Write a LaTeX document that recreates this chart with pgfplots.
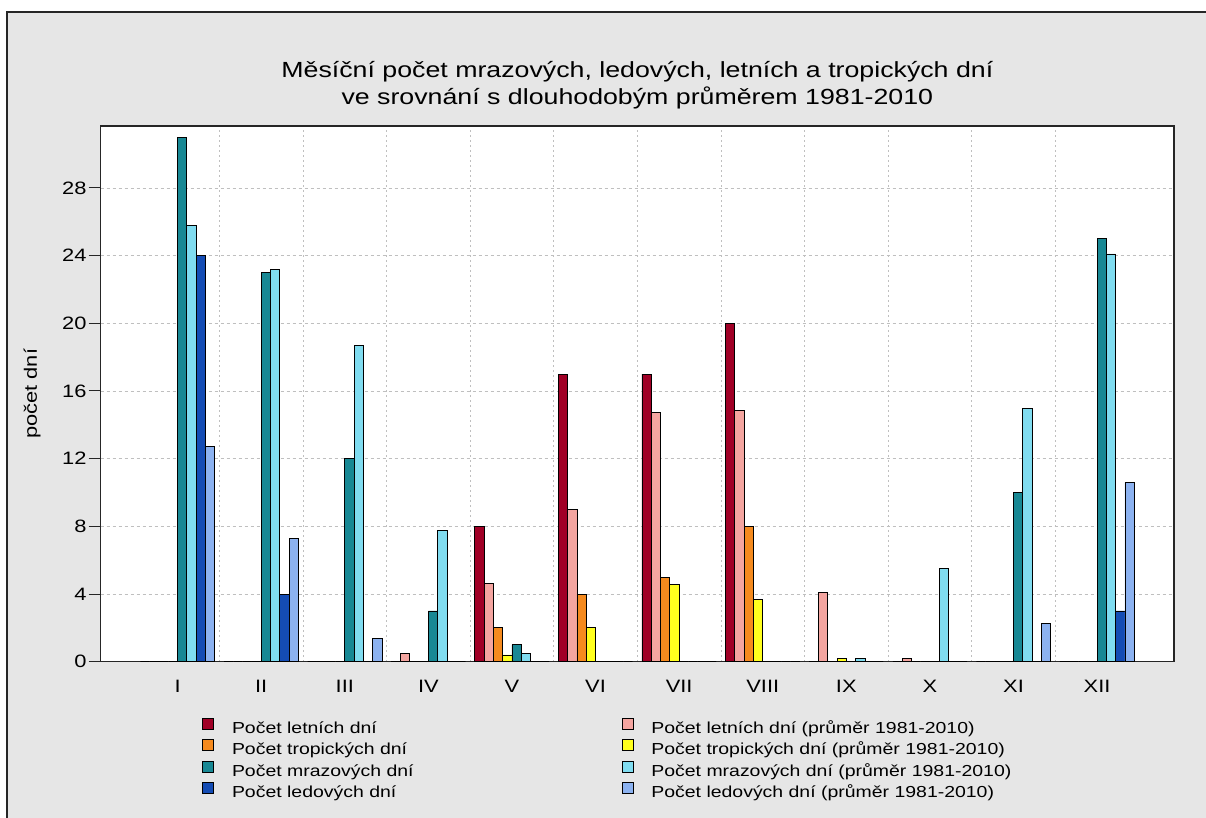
\documentclass[border=0pt]{standalone}
\usepackage{fontspec}
\setmainfont{Liberation Sans}[FakeStretch=1.22]
\usepackage{pgfplots}
\usepackage{pgfplotstable}
\pgfplotsset{compat=1.18}
\definecolor{cL}{HTML}{A00026}
\definecolor{cLa}{HTML}{F4A5A0}
\definecolor{cT}{HTML}{F58A1E}
\definecolor{cTa}{HTML}{FFFF1E}
\definecolor{cM}{HTML}{188894}
\definecolor{cMa}{HTML}{80DCF0}
\definecolor{cD}{HTML}{144CB4}
\definecolor{cDa}{HTML}{8CB2F0}
\definecolor{bg}{HTML}{E6E6E6}
\pgfplotstableread{
x  L   La   T  Ta  M   Ma   D   Da
0  0   0    0  0   31  25.8 24  12.7
1  0   0    0  0   23  23.2 4   7.3
2  0   0    0  0   12  18.7 0   1.4
3  0   0.5  0  0   3   7.75 0   0
4  8   4.6  2  0.4 1   0.5  0   0
5  17  9.0  4  2   0   0    0   0
6  17  14.75 5 4.55 0  0    0   0
7  20  14.85 8 3.7 0   0    0   0
8  0   4.1  0  0.2 0   0.2  0   0
9  0   0.2  0  0   0   5.5  0   0
10 0   0    0  0   10  14.95 0  2.25
11 0   0    0  0   25  24.1 3   10.6
}\data
\begin{document}
\begin{tikzpicture}
\useasboundingbox (0,0) rectangle (1206bp,818bp);
\fill[white] (0,0) rectangle (1206bp,818bp);
\fill[bg] (7.3bp,0) rectangle (1206bp,805.7bp);
\draw[black!85, line width=2bp] (7.3bp,0) -- (7.3bp,805.7bp) -- (1206bp,805.7bp);
\begin{axis}[
  at={(100.7bp,156.3bp)}, anchor=south west,
  scale only axis, width=1073.3bp, height=535.7bp,
  xmin=-0.92, xmax=11.92, ymin=0, ymax=31.66,
  axis background/.style={fill=white},
  axis line style={black!85, line width=1.3bp},
  xtick={0,...,11},
  xticklabels={I,II,III,IV,V,VI,VII,VIII,IX,X,XI,XII},
  minor xtick={0.5,1.5,...,10.5},
  ytick={0,4,...,28},
  xminorgrids, ymajorgrids,
  major grid style={dash pattern=on 3bp off 3bp, black!25, line width=0.8bp},
  minor grid style={dash pattern=on 2bp off 3bp, black!25, line width=0.8bp},
  tick align=outside, tick pos=left,
  major tick length=12bp, minor tick length=0pt,
  xtick style={draw=none},
  ytick style={black!85, line width=1bp},
  /pgf/number format/assume math mode=true,
  tick label style={font=\fontsize{18}{21}\selectfont},
  xticklabel style={anchor=base, yshift=-19bp},
  yticklabel style={anchor=east, inner sep=0pt, xshift=-2bp},
  ylabel={počet dní},
  ylabel style={at={(axis description cs:-0.064,0.5)}, anchor=center, font=\fontsize{18}{21}\selectfont},
  legend columns=2,
  legend cell align=left,
  legend image code/.code={\draw[#1, draw=black, line width=0.8bp] (0bp,0bp) rectangle (11bp,11bp);},
  legend style={at={(rel axis cs:0.0944,-0.1046)}, anchor=north west, draw=none, fill=none,
    inner sep=0pt, row sep=0pt, font=\fontsize{16}{19}\selectfont,
    nodes={inner xsep=2bp, inner ysep=2bp, text height=12bp, text depth=4bp},
    /tikz/every odd column/.append style={column sep=16bp},
    /tikz/every even column/.append style={column sep=206bp}},
  every axis plot/.append style={ybar, bar width=9.289bp, draw=black, line width=0.8bp},
]
\addplot[fill=cL,  bar shift=-32.51bp] table[x=x,y=L]{\data};
\addlegendentry{Počet letních dní}
\addplot[fill=cLa, bar shift=-23.22bp] table[x=x,y=La]{\data};
\addlegendentry{Počet letních dní (průměr 1981-2010)}
\addplot[fill=cT,  bar shift=-13.93bp] table[x=x,y=T]{\data};
\addlegendentry{Počet tropických dní}
\addplot[fill=cTa, bar shift=-4.64bp] table[x=x,y=Ta]{\data};
\addlegendentry{Počet tropických dní (průměr 1981-2010)}
\addplot[fill=cM,  bar shift=4.64bp] table[x=x,y=M]{\data};
\addlegendentry{Počet mrazových dní}
\addplot[fill=cMa, bar shift=13.93bp] table[x=x,y=Ma]{\data};
\addlegendentry{Počet mrazových dní (průměr 1981-2010)}
\addplot[fill=cD,  bar shift=23.22bp] table[x=x,y=D]{\data};
\addlegendentry{Počet ledových dní}
\addplot[fill=cDa, bar shift=32.51bp] table[x=x,y=Da]{\data};
\addlegendentry{Počet ledových dní (průměr 1981-2010)}
\end{axis}
\node[anchor=base, font=\fontsize{22}{27}\selectfont] at (637.35bp,740.1bp) {Měsíční počet mrazových, ledových, letních a tropických dní};
\node[anchor=base, font=\fontsize{22}{27}\selectfont] at (637.35bp,713bp) {ve srovnání s dlouhodobým průměrem 1981-2010};
\end{tikzpicture}
\end{document}
